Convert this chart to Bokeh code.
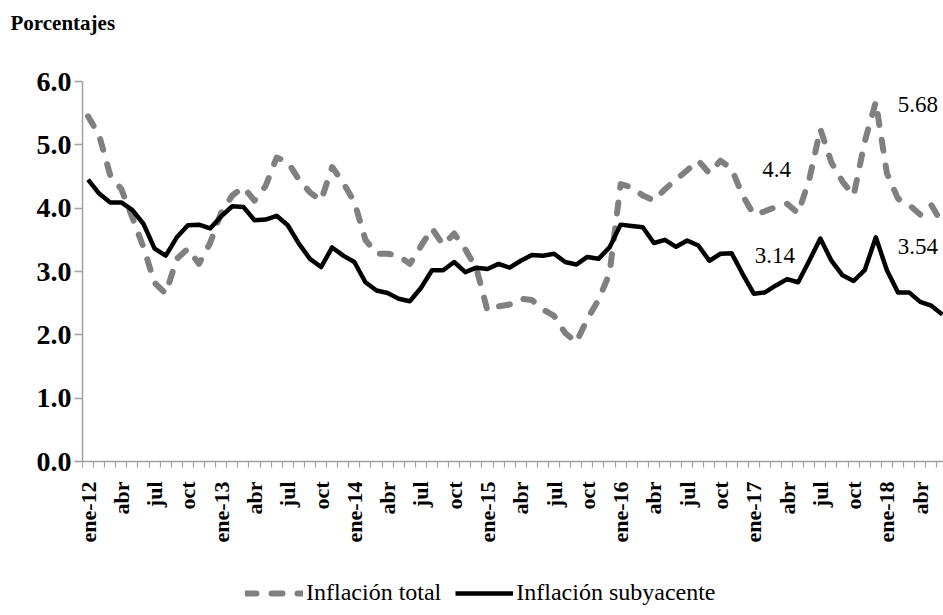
from math import pi
from bokeh.plotting import figure
from bokeh.layouts import column
from bokeh.models import Range1d, FixedTicker, Label, Legend, LegendItem, NumeralTickFormatter, Title
from bokeh.embed import file_html
from bokeh.resources import INLINE

# Monthly series, ene-2012 .. jun-2018 (78 months)
inflacion_total = [
    5.45, 5.15, 4.52, 4.30, 3.85, 3.38, 2.82, 2.65, 3.20, 3.36, 3.12, 3.45,
    3.93, 4.20, 4.33, 4.12, 4.35, 4.80, 4.73, 4.45, 4.25, 4.12, 4.65, 4.40,
    4.10, 3.50, 3.28, 3.28, 3.25, 3.12, 3.40, 3.68, 3.42, 3.60, 3.35, 3.05,
    2.38, 2.45, 2.48, 2.57, 2.55, 2.40, 2.30, 2.03, 1.88, 2.25, 2.55, 2.97,
    4.38, 4.33, 4.20, 4.12, 4.30, 4.45, 4.60, 4.75, 4.55, 4.75, 4.62, 4.20,
    3.90, 3.95, 4.02, 4.07, 3.92, 4.45, 5.25, 4.72, 4.42, 4.20, 5.05, 5.68,
    4.55, 4.15, 4.05, 3.90, 4.05, 3.75,
]
inflacion_subyacente = [
    4.45, 4.23, 4.09, 4.09, 3.97, 3.75, 3.36, 3.25, 3.54, 3.73, 3.74, 3.68,
    3.87, 4.03, 4.02, 3.81, 3.82, 3.88, 3.73, 3.44, 3.20, 3.07, 3.38, 3.25,
    3.15, 2.83, 2.70, 2.66, 2.57, 2.53, 2.74, 3.02, 3.02, 3.15, 2.99, 3.06,
    3.04, 3.12, 3.06, 3.17, 3.26, 3.25, 3.28, 3.15, 3.11, 3.23, 3.20, 3.38,
    3.74, 3.72, 3.70, 3.45, 3.50, 3.39, 3.49, 3.41, 3.17, 3.28, 3.29, 2.96,
    2.65, 2.67, 2.78, 2.88, 2.83, 3.17, 3.52, 3.17, 2.94, 2.85, 3.02, 3.54,
    3.02, 2.67, 2.67, 2.52, 2.46, 2.32,
]
tick_labels = [
    "ene-12", "abr", "jul", "oct", "ene-13", "abr", "jul", "oct",
    "ene-14", "abr", "jul", "oct", "ene-15", "abr", "jul", "oct",
    "ene-16", "abr", "jul", "oct", "ene-17", "abr", "jul", "oct",
    "ene-18", "abr",
]
y_ticks = [0, 1, 2, 3, 4, 5, 6]
annotations = [("5.68", 74.8, 5.64), ("4.4", 62.05, 4.61), ("3.14", 61.9, 3.25), ("3.54", 74.8, 3.39)]

n = len(inflacion_total)
xs = list(range(n))
tick_pos = list(range(0, 3 * len(tick_labels), 3))

AX = "#a0a0a0"
FONT = "Liberation Serif"
W = 943
TOP_H = 51
LEG_H = 40
MAIN_H = 615 - TOP_H - LEG_H

# ---- title strip ----
pt = figure(width=W, height=TOP_H, output_backend="svg", toolbar_location=None,
            x_range=Range1d(0, 1), y_range=Range1d(0, 1), x_axis_type=None, y_axis_type=None,
            min_border_left=82, min_border_right=0, min_border_top=39, min_border_bottom=0)
pt.outline_line_color = None
pt.xgrid.visible = False
pt.ygrid.visible = False
pt.title = Title(text="Porcentajes", align="left", offset=-72,
                 text_font=FONT, text_font_style="bold", text_font_size="21px", text_color="black")

# ---- main chart ----
p = figure(width=W, height=MAIN_H, output_backend="svg", toolbar_location=None,
           x_range=Range1d(-0.5, 77.1), y_range=Range1d(0, 6.0),
           min_border_left=82, min_border_right=0, min_border_top=81 - TOP_H,
           min_border_bottom=MAIN_H - (461 - TOP_H))
p.xgrid.visible = False
p.ygrid.visible = False
p.outline_line_color = None

r_tot = p.line(xs, inflacion_total, line_color="#808080", line_width=6, line_dash="11 15",
               line_cap="round", line_join="round")
r_sub = p.line(xs, inflacion_subyacente, line_color="black", line_width=4.5, line_join="round")

p.yaxis.ticker = FixedTicker(ticks=y_ticks)
p.yaxis.formatter = NumeralTickFormatter(format="0.0")
p.yaxis.axis_line_color = AX
p.yaxis.axis_line_width = 1.5
p.yaxis.major_tick_line_color = AX
p.yaxis.major_tick_line_width = 1.5
p.yaxis.major_tick_out = 8
p.yaxis.major_tick_in = 0
p.yaxis.minor_tick_line_color = None
p.yaxis.major_label_text_font = FONT
p.yaxis.major_label_text_font_style = "bold"
p.yaxis.major_label_text_font_size = "28px"
p.yaxis.major_label_text_color = "black"
p.yaxis.major_label_standoff = 3

p.xaxis.ticker = FixedTicker(ticks=tick_pos, minor_ticks=[i - 0.5 for i in range(n + 1)])
p.xaxis.major_label_overrides = {pos: lab for pos, lab in zip(tick_pos, tick_labels)}
p.xaxis.axis_line_color = AX
p.xaxis.axis_line_width = 1.5
p.xaxis.major_tick_out = 0
p.xaxis.major_tick_in = 0
p.xaxis.major_tick_line_color = None
p.xaxis.minor_tick_line_color = AX
p.xaxis.minor_tick_line_width = 1.2
p.xaxis.minor_tick_out = 6
p.xaxis.minor_tick_in = 0
p.xaxis.major_label_orientation = pi / 2
p.xaxis.major_label_text_font = FONT
p.xaxis.major_label_text_font_style = "bold"
p.xaxis.major_label_text_font_size = "22px"
p.xaxis.major_label_text_color = "black"
p.xaxis.major_label_standoff = 14

for txt, ax, ay in annotations:
    p.add_layout(Label(x=ax, y=ay, text=txt, text_font=FONT, text_font_size="23px",
                       text_color="black", text_align="center", text_baseline="middle"))

# ---- legend strip ----
pl = figure(width=W, height=LEG_H, output_backend="svg", toolbar_location=None,
            x_range=Range1d(0, 1), y_range=Range1d(0, 1), x_axis_type=None, y_axis_type=None,
            min_border_left=82, min_border_right=0, min_border_top=0, min_border_bottom=0)
pl.outline_line_color = None
pl.xgrid.visible = False
pl.ygrid.visible = False
l_tot = pl.line([5, 6], [5, 5], line_color="#808080", line_width=6, line_dash="11 15",
                line_cap="round", line_join="round")
l_sub = pl.line([5, 6], [5, 5], line_color="black", line_width=4.5)
legend = Legend(items=[LegendItem(label="Inflación total", renderers=[l_tot]),
                       LegendItem(label="Inflación subyacente", renderers=[l_sub])],
                orientation="horizontal", location=(163, 9), border_line_color=None,
                background_fill_alpha=0, padding=0, margin=0, spacing=14,
                glyph_width=58, glyph_height=20, label_standoff=3, label_height=20,
                label_text_font=FONT, label_text_font_size="24px", label_text_color="black")
pl.add_layout(legend)

layout = column(pt, p, pl, spacing=0)
open("out.html", "w").write(file_html(layout, INLINE))
